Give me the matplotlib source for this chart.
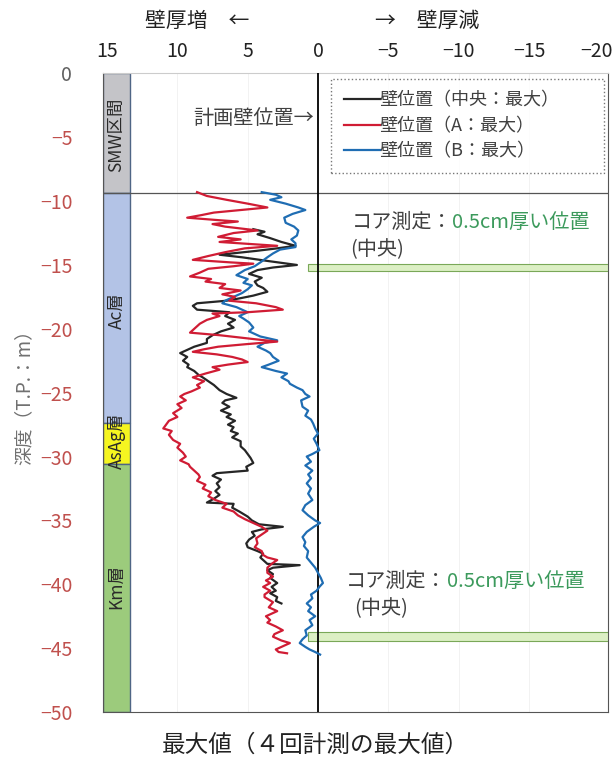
import matplotlib
matplotlib.use("Agg")
import matplotlib.pyplot as plt
from matplotlib.patches import Rectangle
from matplotlib.transforms import ScaledTranslation

plt.rcParams['font.family'] = ['Noto Sans CJK JP', 'DejaVu Sans']

# depth (T.P. m) / value pairs
dep_c = [-12.2, -12.4, -12.6, -12.9, -13.2, -13.5, -13.7, -13.9, -14.2, -14.4, -14.7, -15.0, -15.2, -15.4,
         -15.7, -16.0, -16.3, -16.6, -16.8, -17.1, -17.4, -17.6, -17.8, -18.0, -18.2, -18.5, -18.7, -19.0,
         -19.3, -19.6, -19.9, -20.2, -20.5, -20.8, -21.1, -21.4, -21.7, -21.9, -22.2, -22.5, -22.8, -23.0,
         -23.3, -23.6, -23.8, -24.1, -24.4, -24.8, -25.1, -25.4, -25.6, -25.8, -26.1, -26.4, -26.7, -26.9,
         -27.2, -27.5, -27.7, -28.0, -28.2, -28.5, -28.8, -29.2, -29.5, -29.8, -30.1, -30.5, -30.8, -31.1,
         -31.3, -31.5, -31.8, -32.1, -32.4, -32.7, -33.0, -33.3, -33.6, -33.7, -34.0, -34.3, -34.7, -35.0,
         -35.3, -35.5, -35.7, -35.9, -36.2, -36.5, -36.8, -37.1, -37.4, -37.6, -37.9, -38.2, -38.4, -38.5,
         -38.7, -38.9, -39.2, -39.5, -39.9, -40.2, -40.5, -40.7, -41.0, -41.3, -41.5]
val_c = [4.6, 3.8, 4.3, 3.4, 2.6, 1.6, 2.9, 4.4, 7.0, 5.4, 3.5, 1.5, 3.2, 4.3,
         4.9, 4.0, 4.5, 4.3, 3.9, 3.6, 4.6, 5.5, 6.5, 8.6, 8.9, 8.6, 6.3, 6.6,
         5.9, 6.4, 6.0, 6.9, 7.5, 7.9, 7.9, 8.8, 9.4, 9.8, 9.3, 9.6, 9.2, 9.3,
         8.8, 8.5, 8.2, 7.8, 7.4, 7.0, 6.5, 5.8, 6.6, 6.8, 6.3, 6.9, 6.2, 6.5,
         5.9, 6.4, 6.0, 6.2, 5.7, 6.1, 5.5, 5.5, 5.2, 5.0, 4.8, 4.6, 5.1, 5.0,
         7.2, 7.5, 6.9, 7.2, 7.0, 7.3, 7.0, 7.4, 7.9, 6.0, 6.1, 5.6, 5.0, 4.7,
         4.2, 2.5, 4.0, 4.7, 4.5, 4.9, 5.1, 5.0, 4.3, 3.9, 4.1, 3.8, 3.6, 1.3,
         3.2, 3.6, 3.2, 3.4, 2.9, 3.3, 3.0, 3.4, 2.9, 3.0, 2.6]

dep_a = [-9.3, -9.6, -9.9, -10.2, -10.5, -10.7, -10.9, -11.1, -11.3, -11.5, -11.6, -11.8, -12.0, -12.3,
         -12.5, -12.8, -13.0, -13.2, -13.5, -13.7, -14.0, -14.3, -14.6, -14.8, -14.9, -15.1, -15.3, -15.6,
         -15.9, -16.1, -16.3, -16.5, -16.8, -17.0, -17.3, -17.5, -17.8, -18.0, -18.3, -18.5, -18.7, -18.8,
         -19.0, -19.3, -19.6, -20.0, -20.3, -20.5, -20.8, -21.0, -21.2, -21.4, -21.6, -21.8, -22.0, -22.2,
         -22.4, -22.6, -22.8, -23.0, -23.2, -23.5, -23.8, -24.1, -24.4, -24.6, -24.9, -25.1, -25.3, -25.6,
         -25.9, -26.2, -26.6, -26.9, -27.2, -27.5, -27.8, -28.0, -28.3, -28.7, -29.0, -29.3, -29.7, -30.0,
         -30.3, -30.6, -30.8, -31.1, -31.4, -31.6, -31.9, -32.2, -32.5, -32.8, -33.1, -33.4, -33.7, -34.0,
         -34.3, -34.6, -34.9, -35.2, -35.5, -35.8, -36.1, -36.4, -36.8, -37.1, -37.4, -37.7, -37.9, -38.1,
         -38.4, -38.7, -39.1, -39.4, -39.7, -39.9, -40.2, -40.5, -40.8, -41.0, -41.4, -41.8, -42.1, -42.5,
         -42.8, -43.0, -43.3, -43.6, -43.9, -44.1, -44.4, -44.6, -44.9, -45.1, -45.3, -45.4]
val_a = [8.6, 7.9, 6.5, 5.0, 3.6, 5.5, 7.4, 8.3, 9.3, 7.0, 5.7, 7.5, 6.6, 4.3,
         6.0, 7.1, 5.5, 7.0, 2.9, 5.2, 6.6, 7.8, 8.9, 6.2, 4.6, 6.0, 7.8, 8.4,
         9.1, 7.6, 8.0, 6.6, 7.0, 5.5, 6.8, 5.9, 6.3, 4.4, 3.0, 2.5, 5.0, 7.5,
         7.0, 7.9, 8.4, 8.8, 9.1, 7.0, 4.6, 2.9, 5.1, 7.1, 8.1, 8.9, 7.2, 6.1,
         5.4, 5.0, 6.4, 7.5, 7.0, 8.0, 8.9, 8.1, 8.6, 8.4, 9.0, 9.5, 9.8, 9.4,
         10.0, 9.7, 10.3, 10.0, 10.6, 10.8, 11.0, 10.4, 10.6, 10.3, 9.8, 10.0, 9.6, 9.4,
         9.8, 9.2, 9.1, 8.8, 8.5, 8.4, 8.6, 8.0, 8.2, 7.6, 7.8, 7.3, 6.5, 6.8,
         6.0, 5.7, 5.2, 4.6, 4.0, 3.6, 4.0, 4.4, 4.3, 4.5, 4.0, 3.9, 3.6, 2.9,
         3.3, 3.6, 3.6, 3.2, 3.7, 3.4, 3.9, 3.4, 3.8, 3.8, 3.2, 3.5, 2.9, 3.7,
         3.4, 3.6, 3.0, 2.5, 3.1, 3.2, 2.6, 2.0, 2.6, 3.0, 2.8, 2.2]

dep_b = [-9.3, -9.5, -9.7, -9.9, -10.2, -10.5, -10.7, -11.0, -11.3, -11.7, -12.0, -12.3, -12.7, -13.0,
         -13.3, -13.6, -13.8, -14.1, -14.4, -14.8, -15.1, -15.4, -15.8, -16.1, -16.4, -16.6, -16.9, -17.2,
         -17.5, -17.8, -18.0, -18.3, -18.5, -18.7, -19.0, -19.2, -19.5, -19.9, -20.2, -20.6, -20.9, -21.1,
         -21.4, -21.7, -21.9, -22.2, -22.5, -22.8, -23.0, -23.3, -23.5, -23.8, -24.1, -24.3, -24.6, -24.8,
         -25.1, -25.3, -25.6, -26.1, -26.4, -26.8, -27.1, -27.4, -27.8, -28.2, -28.6, -29.0, -29.5, -29.8,
         -30.0, -30.4, -30.7, -31.1, -31.4, -31.7, -32.1, -32.5, -32.9, -33.4, -33.8, -34.2, -34.6, -35.0,
         -35.2, -35.5, -35.9, -36.3, -36.7, -37.0, -37.4, -37.9, -38.3, -38.7, -39.1, -39.5, -39.9, -40.2,
         -40.5, -40.8, -41.1, -41.5, -41.8, -42.1, -42.5, -42.8, -43.2, -43.6, -44.0, -44.3, -44.6, -44.9,
         -45.1, -45.3, -45.5]
val_b = [4.0, 3.0, 2.6, 3.4, 2.3, 1.4, 0.9, 1.8, 2.4, 2.3, 1.7, 1.4, 1.5, 1.9,
         1.6, 1.6, 2.7, 3.2, 3.6, 4.1, 4.5, 5.2, 5.8, 5.0, 5.3, 4.7, 5.0, 5.4,
         6.0, 6.6, 6.8, 5.8, 5.4, 5.0, 5.6, 5.3, 4.9, 4.6, 4.9, 4.1, 2.9, 3.8,
         4.3, 3.7, 3.4, 3.2, 2.8, 3.5, 4.0, 3.0, 2.2, 2.6, 2.1, 2.0, 1.5, 1.1,
         0.9, 0.6, 1.2, 1.1, 0.7, 0.9, 0.5, 0.35, 0.2, 0.0, 0.3, 0.1, -0.1, 0.4,
         0.8, 0.5, 0.9, 0.4, 0.7, 0.5, 0.8, 0.5, 0.7, 0.4, 0.9, 1.1, 0.7, 0.2,
         -0.15, 0.3, 0.8, 1.1, 0.9, 1.0, 0.7, 0.8, 0.5, 0.2, 0.0, -0.2, -0.35, -0.1,
         0.1, 0.5, 0.4, 0.8, 0.5, 0.7, 0.2, 0.6, 0.4, 0.9, 0.8, 1.1, 1.3, 0.9,
         0.6, 0.2, -0.15]

series_names = ['壁位置（中央：最大）', '壁位置（A：最大）', '壁位置（B：最大）']
series_colors = ['#262626', '#d01c34', '#1f6db3']

# strata column
strata_names = ['SMW区間', 'Ac層', 'AsAg層', 'Km層']
strata_top = [0, -9.4, -27.4, -30.6]
strata_bot = [-9.4, -27.4, -30.6, -50]
strata_label_y = [-4.8, -18.6, -28.8, -40.2]
strata_colors = ['#c4c4c8', '#b3c3e6', '#f5f520', '#9ccb7c']

core_depths = [(-14.9, -15.5), (-43.7, -44.4)]

xticks = [15, 10, 5, 0, -5, -10, -15, -20]
yticks = [0, -5, -10, -15, -20, -25, -30, -35, -40, -45, -50]

fig = plt.figure(figsize=(6.12, 7.64), dpi=100)
ax = fig.add_axes([0.168, 0.068, 0.825, 0.836])
ax.set_xlim(15.3, -20.6)
ax.set_ylim(-50, 0)

# strata boxes
for name, t, b, ly, c in zip(strata_names, strata_top, strata_bot, strata_label_y, strata_colors):
    ax.add_patch(Rectangle((15.3, b), -1.95, t - b, facecolor=c, edgecolor='#4f6585', lw=1.0, zorder=2))
    ax.text(14.33, ly, name, rotation=90, ha='center', va='center', fontsize=12.5,
            color='#2a2a2a', zorder=3)

ax.axhline(-9.4, color='#555555', lw=0.9, zorder=2)
ax.axvline(0, color='black', lw=1.3, zorder=4)

for x in [10, 5, -5, -10, -15]:
    ax.axvline(x, color='#f0f0f0', lw=0.6, zorder=0)

# core measurement bands
for top, bot in core_depths:
    ax.add_patch(Rectangle((0.7, bot), -21.3, top - bot, facecolor='#dcefc4', edgecolor='#7aa858',
                           lw=0.8, zorder=3))

lines = []
for d, v, nm, c in zip([dep_c, dep_a, dep_b], [val_c, val_a, val_b], series_names, series_colors):
    ln, = ax.plot(v, d, color=c, lw=1.6, label=nm, zorder=5)
    lines.append(ln)
lines[1].set_zorder(6)

leg = ax.legend(handles=lines, loc='upper left', bbox_to_anchor=(0.452, 0.991, 0.54, 0), mode='expand',
                frameon=True, fancybox=False, fontsize=13, handlelength=2.0, handletextpad=0.0,
                borderpad=0.7, labelspacing=0.4, labelcolor='#404040', borderaxespad=0)
leg.get_frame().set_edgecolor('#555555')
leg.get_frame().set_linestyle(':')
leg.get_frame().set_linewidth(1.0)

ax.text(0.25, -3.5, '計画壁位置→', ha='right', va='center', fontsize=14.5, color='#404040')

for (tx, ty), (px, py) in [((-2.4, -11.7), (-2.3, -13.8)), ((-2.0, -39.8), (-2.6, -41.9))]:
    t1 = ax.text(tx, ty, 'コア測定：', ha='left', va='center', fontsize=14.5, color='#404040')
    ax.annotate('0.5cm厚い位置', xy=(1, 0.5), xycoords=t1, ha='left', va='center',
                fontsize=14.5, color='#3c9a5c')
    ax.text(px, py, '(中央)', ha='left', va='center', fontsize=14.5, color='#404040')

ax.xaxis.tick_top()
ax.set_xticks(xticks)
ax.set_xticklabels([str(x).replace('-', '\u2212') for x in xticks], fontsize=14, color='#222222')
ax.tick_params(axis='x', length=0, pad=8)
# keep the last label inside the figure
last = ax.get_xticklabels()[-1]
last.set_horizontalalignment('right')
last.set_transform(last.get_transform() + ScaledTranslation(10 / 72, 0, fig.dpi_scale_trans))

ax.set_yticks(yticks)
ax.set_yticklabels([str(y).replace('-', '\u2212') for y in yticks], fontsize=14)
ax.tick_params(axis='y', length=0, pad=22)
for lbl, y in zip(ax.get_yticklabels(), yticks):
    lbl.set_color('#606060' if y == 0 else '#c0504d')

for s in ['left', 'bottom', 'right']:
    ax.spines[s].set_color('#555555')
ax.spines['top'].set_color('#cccccc')

ax.set_ylabel('深度（T.P.：m）', fontsize=13.5, color='#707070', labelpad=4)

fig.text(0.322, 0.973, '壁厚増　←', ha='center', va='center', fontsize=15, color='#222222')
fig.text(0.698, 0.973, '→　壁厚減', ha='center', va='center', fontsize=15, color='#222222')
fig.text(0.515, 0.025, '最大値（４回計測の最大値）', ha='center', va='center', fontsize=17,
         color='#222222')

fig.savefig('out.png', dpi=100)
